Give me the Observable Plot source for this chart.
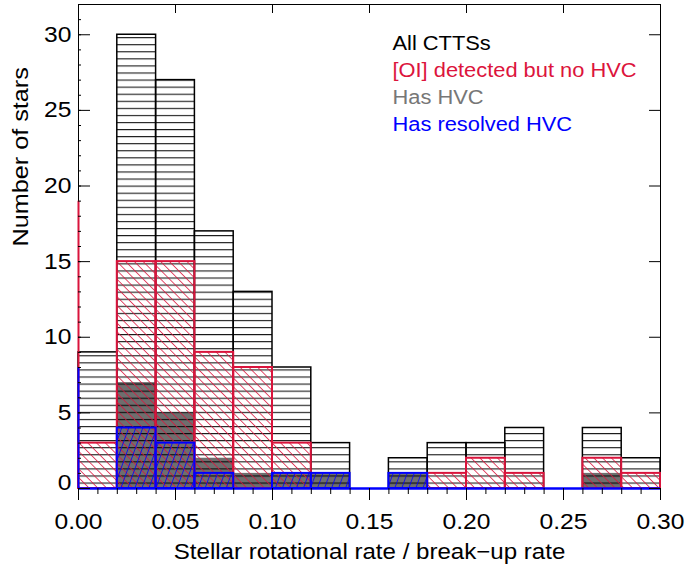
<!DOCTYPE html>
<html><head><meta charset="utf-8">
<script src="https://cdn.jsdelivr.net/npm/d3@7"></script>
<script src="https://cdn.jsdelivr.net/npm/@observablehq/plot@0.6"></script>
<style>
html,body{margin:0;padding:0;background:#fff;}
#chart svg{display:block;}
</style></head><body><div id="chart"></div>
<script>
// Bins of stellar rotational rate / break-up rate (left edges), width 0.02
const binStarts = [0.00, 0.02, 0.04, 0.06, 0.08, 0.10, 0.12, 0.14, 0.16, 0.18, 0.20, 0.22, 0.24, 0.26, 0.28];
const binWidth = 0.02;
// Counts per bin
const allCTTS     = [9, 30, 27, 17, 13, 8, 3, 0, 2, 3, 3, 4, 0, 4, 2];
const oiNoHVC     = [3, 15, 15, 9, 8, 3, 0, 0, 0, 1, 2, 1, 0, 2, 1];
const hasHVC      = [0, 7, 5, 2, 1, 1, 1, 0, 1, 0, 0, 0, 0, 1, 0];
const resolvedHVC = [0, 4, 3, 1, 0, 1, 1, 0, 1, 0, 0, 0, 0, 0, 0];
// Counts of the bin just below 0 (only its edge at x = 0 shows)
const underflowOI = 19;
const underflowResolved = 8;
// Ticks
const xMajor = [0, 0.05, 0.10, 0.15, 0.20, 0.25, 0.30];
const xMinor = d3.range(0, 31).map(i => i / 100);
const yMajor = [0, 5, 10, 15, 20, 25, 30];
const yMinor = d3.range(0, 33);
// Legend
const legendLabels = ["All CTTSs", "[OI] detected but no HVC", "Has HVC", "Has resolved HVC"];
const legendColors = ["#000000", "#dc143c", "#777777", "#0000ff"];

const W = 686, H = 570, mL = 78, mR = 26, mT = 4, mB = 82;
const plotW = W - mL - mR, plotH = H - mT - mB;
const font = "Liberation Sans";
const RED = "#d9143c", BLUE = "#0000ff", GRAY = "#6e6e6e";

const bins = binStarts.map((x0, i) => ({
  x1: x0, x2: x0 + binWidth,
  all: allCTTS[i], oi: oiNoHVC[i], hvc: hasHVC[i], res: resolvedHVC[i]
}));

const svg = Plot.plot({
  width: W, height: H,
  marginLeft: mL, marginRight: mR, marginTop: mT, marginBottom: mB,
  style: {fontFamily: font, background: "white", color: "black", overflow: "visible"},
  x: {domain: [0, 0.3]},
  y: {domain: [0, 32]},
  marks: [
    Plot.frame({stroke: "black", strokeWidth: 1}),
    Plot.rect(bins.filter(d => d.hvc > 0), {x1: "x1", x2: "x2", y1: 0, y2: "hvc", fill: GRAY}),
    Plot.rect(bins.filter(d => d.all > 0), {x1: "x1", x2: "x2", y1: 0, y2: "all", fill: "url(#hatchH)", stroke: "black", strokeWidth: 1.5}),
    Plot.rect(bins.filter(d => d.oi > 0), {x1: "x1", x2: "x2", y1: 0, y2: "oi", fill: "url(#hatchR)", stroke: RED, strokeWidth: 2}),
    Plot.ruleX([underflowOI], {x: 0, y1: 0, y2: d => d, stroke: RED, strokeWidth: 2}),
    Plot.rect(bins.filter(d => d.res > 0), {x1: "x1", x2: "x2", y1: 0, y2: "res", fill: "url(#hatchB)", stroke: BLUE, strokeWidth: 2}),
    Plot.ruleX([underflowResolved], {x: 0, y1: 0, y2: d => d, stroke: BLUE, strokeWidth: 2}),
    Plot.ruleY([0], {stroke: BLUE, strokeWidth: 2.5}),
    // ticks
    Plot.axisX({anchor: "bottom", ticks: xMajor, tickSize: 12, tickPadding: 13, tickFormat: d => d.toFixed(2), fontSize: 22, label: null, stroke: "black"}),
    Plot.axisX({anchor: "bottom", ticks: xMinor, tickSize: 6, tickFormat: () => "", label: null, stroke: "black"}),
    Plot.tickX(xMajor, {x: d => d, insetBottom: plotH - 9, stroke: "black"}),
    Plot.tickY(yMajor, {y: d => d, insetRight: plotW - 12, stroke: "black"}),
    Plot.tickY(yMinor, {y: d => d, insetRight: plotW - 3, stroke: "black"}),
    Plot.tickY(yMajor, {y: d => d, insetLeft: plotW - 11, stroke: "black"}),
    Plot.axisY({anchor: "left", ticks: yMajor.filter(d => d > 0), tickSize: 0, tickPadding: 7, fontSize: 22, label: null}),
    Plot.axisY({anchor: "left", ticks: [0], tickSize: 0, tickPadding: 7, fontSize: 22, label: null, dy: -6}),
    // titles
    Plot.text(["Stellar rotational rate / break\u2212up rate"], {frameAnchor: "bottom", dy: 70, lineAnchor: "bottom", fontSize: 21.5, fill: "black"}),
    Plot.text(["Number of stars"], {frameAnchor: "left", dx: -58, rotate: -90, lineAnchor: "middle", fontSize: 22.5, fill: "black"}),
    // legend
    ...legendLabels.map((t, i) => Plot.text([t], {
      frameAnchor: "top-left", dx: 314, dy: 45 + i * 27.3, lineAnchor: "bottom", textAnchor: "start",
      fontSize: 19.5, fill: legendColors[i]
    }))
  ]
});

// hatch patterns
const ns = "http://www.w3.org/2000/svg";
const defs = document.createElementNS(ns, "defs");
function pattern(id, w, h, transform, d, stroke, sw) {
  const p = document.createElementNS(ns, "pattern");
  p.setAttribute("id", id);
  p.setAttribute("patternUnits", "userSpaceOnUse");
  p.setAttribute("width", w);
  p.setAttribute("height", h);
  if (transform) p.setAttribute("patternTransform", transform);
  const path = document.createElementNS(ns, "path");
  path.setAttribute("d", d);
  path.setAttribute("stroke", stroke);
  path.setAttribute("stroke-width", sw);
  path.setAttribute("fill", "none");
  p.appendChild(path);
  defs.appendChild(p);
}
pattern("hatchH", 20, 7.07, null, "M0,2.35H20", "black", 1);
pattern("hatchR", 6.2, 20, "rotate(-45)", "M3.1,0V20", RED, 0.8);
pattern("hatchB", 6.6, 20, "rotate(20)", "M3.3,0V20", BLUE, 0.8);
svg.insertBefore(defs, svg.firstChild);

document.getElementById("chart").appendChild(svg);

// The reference font is slightly wider than Liberation Sans: stretch glyphs horizontally
svg.querySelectorAll("text").forEach(t => {
  const len = t.getComputedTextLength();
  if (len > 0) {
    t.setAttribute("textLength", (len * 1.12).toFixed(2));
    t.setAttribute("lengthAdjust", "spacingAndGlyphs");
  }
});
</script>
</body></html>
